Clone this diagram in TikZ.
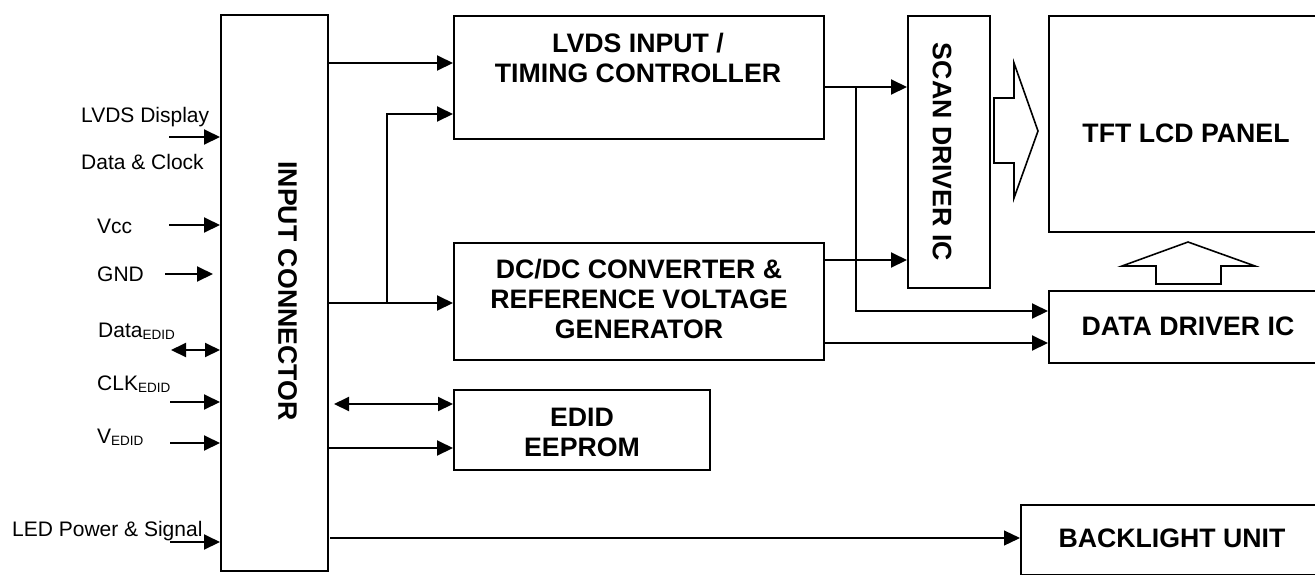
\documentclass[tikz,border=0pt]{standalone}
\usepackage{fontspec}
\setmainfont{Liberation Sans}
\usetikzlibrary{arrows.meta}
\newcommand{\edidsub}{\raisebox{-2.5pt}{\fontsize{13.5}{13.5}\selectfont EDID}}
\begin{document}
\begin{tikzpicture}[x=1pt,y=-1pt,
  box/.style={draw,line width=2pt,inner sep=0pt,anchor=north west},
  btxt/.style={font=\fontsize{26.7}{30}\selectfont\bfseries,align=center,inner sep=0pt},
  lbl/.style={font=\fontsize{21}{24}\selectfont,anchor=base west,inner sep=0pt},
  conn/.style={line width=2pt,-{Triangle[length=16pt,width=15pt]}},
  bid/.style={line width=2pt,{Triangle[length=15pt,width=14pt]}-{Triangle[length=15pt,width=14pt]}},
  thinconn/.style={line width=1.2pt,-{Triangle[length=16pt,width=15pt]}},
  hollow/.style={draw,line width=1.6pt,line join=miter,fill=white}
]
\clip (0,0) rectangle (1315,574);
\fill[white] (0,0) rectangle (1315,574);

% boxes
\node[box,minimum width=107pt,minimum height=556pt] (conn) at (220,14) {};
\node[box,minimum width=370pt,minimum height=123pt] (lvds) at (453,15) {};
\node[box,minimum width=370pt,minimum height=117pt] (dcdc) at (453,242) {};
\node[box,minimum width=256pt,minimum height=80pt] (edid) at (453,389) {};
\node[box,minimum width=82pt,minimum height=272pt] (scan) at (907,15) {};
\node[box,minimum width=276pt,minimum height=216pt] (tft) at (1048,15) {};
\node[box,minimum width=280pt,minimum height=72pt] (data) at (1048,290) {};
\node[box,minimum width=305pt,minimum height=70pt] (bl) at (1020,504) {};

% box texts
\node[btxt] (lvdsT) at (638,57.5) {LVDS INPUT /\\TIMING CONTROLLER};
\node[btxt] (dcdcT) at (639,298.5) {DC/DC CONVERTER \&\\REFERENCE VOLTAGE\\GENERATOR};
\node[btxt] (edidT) at (582,432) {EDID\\EEPROM};
\node[btxt] (tftT) at (1186,133) {TFT LCD PANEL};
\node[btxt] (dataT) at (1188,326) {DATA DRIVER IC};
\node[btxt] (blT) at (1172,538) {BACKLIGHT UNIT};
\node[btxt,rotate=-90] (scanT) at (942,152) {SCAN DRIVER IC};
\node[btxt,rotate=-90] (connT) at (287.5,291) {INPUT CONNECTOR};

% hollow arrows
\draw[hollow] (994,98) -- (1014,98) -- (1014,63) -- (1038,131) -- (1014,198) -- (1014,163) -- (994,163) -- cycle;
\draw[hollow] (1156,284) -- (1156,266) -- (1122,266) -- (1188,242) -- (1255,266) -- (1221,266) -- (1221,284) -- cycle;

% internal connectors
\coordinate (j1) at (387,303);
\coordinate (j2) at (856,87);
\coordinate (e1) at (334,404);
\coordinate (b1) at (330,538);
\draw[conn] (conn.east |- 0,63) -- (lvds.west |- 0,63);
\draw[conn] (conn.east |- j1) -- (dcdc.west |- j1);
\draw[conn] (j1) |- (lvds.west |- 0,114);
\draw[conn] (lvds.east |- j2) -- (scan.west |- j2);
\draw[conn] (j2) |- (data.west |- 0,311);
\draw[conn] (dcdc.east |- 0,260) -- (scan.west |- 0,260);
\draw[conn] (dcdc.east |- 0,343) -- (data.west |- 0,343);
\draw[bid] (e1) -- (edid.west |- e1);
\draw[conn] (conn.east |- 0,448) -- (edid.west |- 0,448);
\draw[thinconn] (b1) -- (bl.west |- b1);

% input labels
\node[lbl] (l1) at (81,122) {LVDS Display};
\node[lbl] (l2) at (81,169) {Data \& Clock};
\node[lbl] (l3) at (97,233) {Vcc};
\node[lbl] (l4) at (97,281) {GND};
\node[lbl] (l5) at (98,337) {Data\edidsub};
\node[lbl] (l6) at (97,390) {CLK\edidsub};
\node[lbl] (l7) at (97,443) {V\edidsub};
\node[lbl] (l8) at (12,536) {LED Power \& Signal};

% input arrows
\coordinate (i1) at (169,137);
\coordinate (i2) at (169,225);
\coordinate (i3) at (165,274);
\coordinate (i4) at (171,350);
\coordinate (i5) at (170,402);
\coordinate (i6) at (170,443);
\coordinate (i7) at (170,542);
\draw[conn] (i1) -- (conn.west |- i1);
\draw[conn] (i2) -- (conn.west |- i2);
\draw[conn] (i3) -- ([xshift=-7pt]conn.west |- i3);
\draw[bid] (i4) -- (conn.west |- i4);
\draw[conn] (i5) -- (conn.west |- i5);
\draw[conn] (i6) -- (conn.west |- i6);
\draw[conn] (i7) -- (conn.west |- i7);
\end{tikzpicture}
\end{document}
